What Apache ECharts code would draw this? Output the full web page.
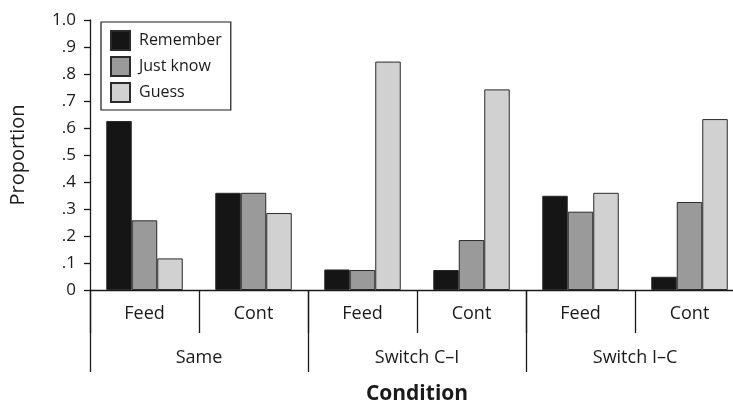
<!DOCTYPE html>
<html>
<head>
<meta charset="utf-8">
<script src="https://cdn.jsdelivr.net/npm/echarts@6/dist/echarts.min.js"></script>
<style>
  html, body { margin: 0; padding: 0; background: #fff; }
  #chart { width: 733px; height: 402px; }
</style>
</head>
<body>
<div id="chart"></div>
<script>
  // data
  var conditions = ['Feed', 'Cont', 'Feed', 'Cont', 'Feed', 'Cont'];
  var groups = ['Same', 'Switch C\u2013I', 'Switch I\u2013C'];
  var remember = [0.626, 0.36, 0.076, 0.074, 0.349, 0.049];
  var justKnow = [0.258, 0.36, 0.074, 0.185, 0.29, 0.326];
  var guess = [0.117, 0.285, 0.846, 0.743, 0.36, 0.633];
  var yTicks = ['0', '.1', '.2', '.3', '.4', '.5', '.6', '.7', '.8', '.9', '1.0'];

  var font = 'Open Sans';
  var ink = '#1a1a1a';

  var myChart = echarts.init(document.getElementById('chart'));

  function barSeries(name, data, color) {
    return {
      name: name,
      type: 'bar',
      xAxisIndex: 0,
      barWidth: 25.5,
      barGap: '0%',
      itemStyle: { color: color, borderColor: '#2a2a2a', borderWidth: 1 },
      data: data
    };
  }

  myChart.setOption({
    animation: false,
    backgroundColor: '#fff',
    textStyle: { fontFamily: font, color: ink },
    // plot runs a little past the right edge, as in the original figure
    grid: { left: 90, top: 20, width: 654, height: 270, containLabel: false, outerBoundsMode: 'none' },
    legend: {
      orient: 'vertical',
      left: 101,
      top: 22,
      padding: [8, 9, 7, 9],
      itemWidth: 19,
      itemHeight: 19,
      itemGap: 5,
      icon: 'rect',
      borderColor: ink,
      borderWidth: 1.2,
      textStyle: { fontFamily: font, fontSize: 16, color: ink, padding: [0, 0, 0, 4] },
      data: ['Remember', 'Just know', 'Guess']
    },
    xAxis: [{
      type: 'category',
      position: 'bottom',
      data: conditions,
      axisLine: { show: true, lineStyle: { color: ink, width: 1.3 } },
      axisTick: { show: true, length: 43, interval: 0, lineStyle: { color: ink, width: 1.3 } },
      axisLabel: { margin: 15, fontSize: 18, color: ink, fontFamily: font, interval: 0 }
    }, {
      type: 'category',
      position: 'bottom',
      data: groups,
      name: 'Condition',
      nameLocation: 'middle',
      nameGap: 94,
      nameTextStyle: { fontFamily: font, fontSize: 21, fontWeight: 'bold', color: ink },
      axisLine: { show: false },
      axisTick: { show: true, length: 82, interval: 0, lineStyle: { color: ink, width: 1.3 } },
      axisLabel: { margin: 59, fontSize: 18, color: ink, fontFamily: font, interval: 0 }
    }],
    yAxis: {
      type: 'value',
      min: 0,
      max: 1,
      interval: 0.1,
      name: 'Proportion',
      nameLocation: 'middle',
      nameRotate: 90,
      nameGap: 62,
      nameTextStyle: { fontFamily: font, fontSize: 20, color: ink },
      splitLine: { show: false },
      axisLine: { show: true, lineStyle: { color: ink, width: 1.3 } },
      axisTick: { show: true, length: 6, lineStyle: { color: ink, width: 1.3 } },
      axisLabel: {
        margin: 14,
        fontSize: 17,
        color: ink,
        fontFamily: font,
        formatter: function (v) { return yTicks[Math.round(v * 10)]; }
      }
    },
    series: [
      barSeries('Remember', remember, '#151515'),
      barSeries('Just know', justKnow, '#9a9a9a'),
      barSeries('Guess', guess, '#d0d1d0')
    ]
  });
</script>
</body>
</html>
